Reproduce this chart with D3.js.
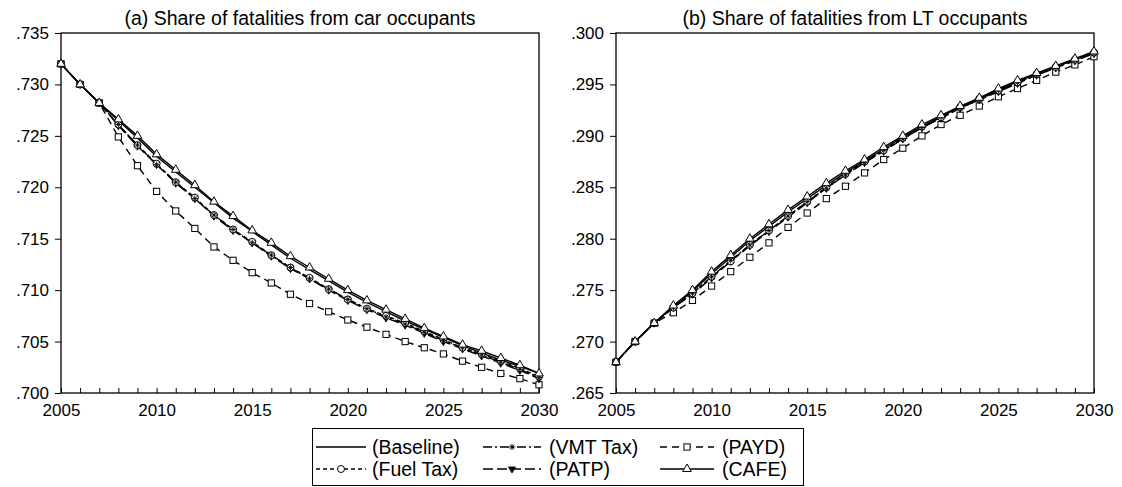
<!DOCTYPE html>
<html><head><meta charset="utf-8">
<script src="https://cdn.jsdelivr.net/npm/d3@7"></script>
<style>
html,body{margin:0;padding:0;background:#fff;}
svg{display:block;font-family:"Liberation Sans",Arial,sans-serif;}
</style></head>
<body><svg id="chart" width="1122" height="487"></svg>
<script>
const years = d3.range(2005, 2031);
const xTickLabels = [2005, 2010, 2015, 2020, 2025, 2030];
const carTicks = [0.700, 0.705, 0.710, 0.715, 0.720, 0.725, 0.730, 0.735];
const ltTicks = [0.265, 0.270, 0.275, 0.280, 0.285, 0.290, 0.295, 0.300];
const seriesNames = ["(Baseline)", "(Fuel Tax)", "(VMT Tax)", "(PATP)", "(PAYD)", "(CAFE)"];

const carBaseline = [.7320,.7300,.7282,.7265,.7248,.7230,.7215,.7200,.7185,.7170,.7157,.7144,.7131,.7120,.7109,.7098,.7088,.7079,.7070,.7062,.7054,.7046,.7039,.7032,.7026,.7019];
const carFuel = [.7320,.7300,.7282,.7261,.7241,.7223,.7205,.7190,.7173,.7159,.7147,.7134,.7122,.7112,.7101,.7091,.7082,.7075,.7068,.7060,.7052,.7044,.7038,.7031,.7024,.7016];
const carVMT = [.7320,.7300,.7282,.7261,.7241,.7222,.7205,.7189,.7173,.7159,.7146,.7134,.7122,.7111,.7101,.7091,.7082,.7074,.7067,.7059,.7051,.7044,.7037,.7030,.7023,.7015];
const carPATP = [.7320,.7300,.7282,.7260,.7240,.7222,.7204,.7189,.7172,.7158,.7146,.7133,.7121,.7111,.7100,.7090,.7081,.7073,.7066,.7058,.7050,.7043,.7036,.7029,.7022,.7014];
const carPAYD = [.7320,.7300,.7282,.7249,.7221,.7196,.7177,.7160,.7142,.7129,.7117,.7107,.7096,.7087,.7079,.7071,.7064,.7057,.7050,.7044,.7038,.7031,.7025,.7019,.7014,.7008];
const carCAFE = [.7320,.7300,.7282,.7266,.7250,.7232,.7217,.7202,.7186,.7172,.7158,.7146,.7133,.7122,.7111,.7100,.7090,.7081,.7072,.7063,.7055,.7047,.7041,.7034,.7027,.7019];

const ltBaseline = [.2680,.2700,.2718,.2734,.2749,.2766,.2782,.2798,.2812,.2826,.2839,.2852,.2864,.2876,.2887,.2899,.2909,.2919,.2928,.2936,.2945,.2953,.2960,.2967,.2974,.2981];
const ltFuel = [.2680,.2700,.2718,.2733,.2747,.2763,.2778,.2794,.2808,.2822,.2836,.2850,.2863,.2875,.2886,.2898,.2909,.2918,.2928,.2936,.2944,.2952,.2960,.2967,.2974,.2981];
const ltVMT = [.2680,.2700,.2718,.2733,.2747,.2763,.2779,.2794,.2808,.2822,.2836,.2849,.2862,.2874,.2886,.2897,.2908,.2918,.2927,.2935,.2944,.2952,.2959,.2967,.2974,.2981];
const ltPATP = [.2680,.2700,.2718,.2733,.2746,.2762,.2778,.2793,.2807,.2821,.2835,.2849,.2862,.2874,.2885,.2897,.2908,.2917,.2927,.2935,.2943,.2951,.2959,.2966,.2973,.2980];
const ltPAYD = [.2680,.2700,.2718,.2728,.2740,.2754,.2768,.2782,.2796,.2811,.2825,.2839,.2851,.2864,.2877,.2888,.2900,.2911,.2920,.2929,.2938,.2946,.2954,.2962,.2969,.2977];
const ltCAFE = [.2680,.2700,.2718,.2735,.2750,.2768,.2784,.2800,.2814,.2828,.2841,.2854,.2866,.2877,.2889,.2900,.2911,.2920,.2929,.2937,.2946,.2954,.2961,.2968,.2975,.2982];

const styles = {
  "(Baseline)": {dash: null, marker: "none"},
  "(Fuel Tax)": {dash: "4,3", marker: "circle"},
  "(VMT Tax)": {dash: "9,3,2,3", marker: "asterisk"},
  "(PATP)": {dash: "10,4", marker: "tridown"},
  "(PAYD)": {dash: "7,5", marker: "square"},
  "(CAFE)": {dash: null, marker: "triup"}
};

const FONT = "Liberation Sans, Arial, sans-serif";
const svg = d3.select("#chart");
const plotTop = 33, plotBottom = 393;

function drawMarker(g, type, x, y) {
  if (type === "circle") {
    g.append("circle").attr("cx", x).attr("cy", y).attr("r", 3.5)
      .attr("fill", "#fff").attr("stroke", "#000").attr("stroke-width", 1);
  } else if (type === "square") {
    g.append("rect").attr("x", x - 3.1).attr("y", y - 3.1).attr("width", 6.2).attr("height", 6.2)
      .attr("fill", "#fff").attr("stroke", "#000").attr("stroke-width", 1);
  } else if (type === "triup") {
    g.append("path").attr("d", d3.symbol(d3.symbolTriangle, 32)())
      .attr("transform", `translate(${x},${y})`)
      .attr("fill", "#fff").attr("stroke", "#000").attr("stroke-width", 1);
  } else if (type === "tridown") {
    g.append("path").attr("d", d3.symbol(d3.symbolTriangle, 22)())
      .attr("transform", `translate(${x},${y}) rotate(180)`)
      .attr("fill", "#000").attr("stroke", "#000").attr("stroke-width", 0.8);
  } else if (type === "asterisk") {
    const r = 3.2;
    const p = `M${x-r},${y}L${x+r},${y}M${x},${y-r}L${x},${y+r}M${x-r*0.7},${y-r*0.7}L${x+r*0.7},${y+r*0.7}M${x-r*0.7},${y+r*0.7}L${x+r*0.7},${y-r*0.7}`;
    g.append("path").attr("d", p).attr("stroke", "#000").attr("stroke-width", 0.9).attr("fill", "none");
  }
}

function panel(left, right, domain, ticks, title, series) {
  const x = d3.scaleLinear().domain([2005, 2030]).range([left, right]);
  const y = d3.scaleLinear().domain(domain).range([plotBottom, plotTop]);
  const g = svg.append("g");

  const ya = g.append("g").attr("transform", `translate(${left},0)`)
    .call(d3.axisLeft(y).tickValues(ticks).tickSize(6).tickPadding(6)
      .tickFormat(d => d3.format(".3f")(d).replace(/^0/, "")));
  ya.select(".domain").remove();
  ya.selectAll("text").attr("font-size", 17).attr("font-family", FONT).attr("fill", "#000");
  ya.selectAll("line").attr("stroke", "#000");

  const xa = g.append("g").attr("transform", `translate(0,${plotBottom})`)
    .call(d3.axisBottom(x).tickValues(years).tickSize(-5).tickPadding(11)
      .tickFormat(d => xTickLabels.includes(d) ? String(d) : ""));
  xa.select(".domain").remove();
  xa.selectAll("text").attr("font-size", 17).attr("font-family", FONT).attr("fill", "#000");
  xa.selectAll("line").attr("stroke", "#000");

  g.append("rect").attr("x", left).attr("y", plotTop).attr("width", right - left).attr("height", plotBottom - plotTop)
    .attr("fill", "none").attr("stroke", "#000").attr("stroke-width", 1.3);

  g.append("text").attr("x", (left + right) / 2).attr("y", 25).attr("text-anchor", "middle")
    .attr("font-size", 19.5).attr("font-family", FONT).text(title);

  const line = d3.line().x((d, i) => x(years[i])).y(d => y(d));
  series.forEach(s => {
    const st = styles[s.name];
    g.append("path").datum(s.values).attr("d", line)
      .attr("fill", "none").attr("stroke", "#000").attr("stroke-width", 1.4)
      .attr("stroke-dasharray", st.dash);
  });
  series.forEach(s => {
    const st = styles[s.name];
    const mg = g.append("g");
    s.values.forEach((v, i) => drawMarker(mg, st.marker, x(years[i]), y(v)));
  });
}

panel(61, 539, [0.700, 0.735], carTicks, "(a) Share of fatalities from car occupants", [
  {name: "(Baseline)", values: carBaseline},
  {name: "(PAYD)", values: carPAYD},
  {name: "(PATP)", values: carPATP},
  {name: "(Fuel Tax)", values: carFuel},
  {name: "(VMT Tax)", values: carVMT},
  {name: "(CAFE)", values: carCAFE}
]);
panel(616, 1094, [0.265, 0.300], ltTicks, "(b) Share of fatalities from LT occupants", [
  {name: "(Baseline)", values: ltBaseline},
  {name: "(PAYD)", values: ltPAYD},
  {name: "(PATP)", values: ltPATP},
  {name: "(Fuel Tax)", values: ltFuel},
  {name: "(VMT Tax)", values: ltVMT},
  {name: "(CAFE)", values: ltCAFE}
]);

const legendRows = [["(Baseline)", "(VMT Tax)", "(PAYD)"], ["(Fuel Tax)", "(PATP)", "(CAFE)"]];
const colSample = [[316, 366], [483, 541], [660, 714]];
const colText = [372, 549, 722];
const rowY = [447, 469];
const lg = svg.append("g");
lg.append("rect").attr("x", 312.5).attr("y", 428.5).attr("width", 491).attr("height", 57)
  .attr("fill", "#fff").attr("stroke", "#000").attr("stroke-width", 1);
legendRows.forEach((row, ri) => row.forEach((name, ci) => {
  const st = styles[name];
  const [a, b] = colSample[ci];
  lg.append("line").attr("x1", a).attr("x2", b).attr("y1", rowY[ri]).attr("y2", rowY[ri])
    .attr("stroke", "#000").attr("stroke-width", 1.3).attr("stroke-dasharray", st.dash);
  drawMarker(lg, st.marker, (a + b) / 2, rowY[ri]);
  lg.append("text").attr("x", colText[ci]).attr("y", rowY[ri]).attr("dy", "0.36em")
    .attr("font-size", 19.5).attr("font-family", FONT).text(name);
}));
</script></body></html>
